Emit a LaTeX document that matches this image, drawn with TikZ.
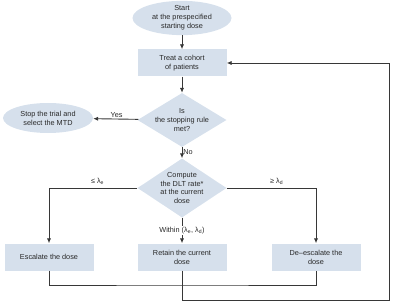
\documentclass[tikz,border=0pt]{standalone}
\usepackage{fontspec}
\setmainfont{Liberation Sans}
\usepackage{xcolor}
\usepackage{tikz}
\usetikzlibrary{arrows.meta,shapes.geometric}
\definecolor{flowline}{RGB}{55,55,55}
\definecolor{flowfill}{RGB}{214,224,236}
\definecolor{flowtext}{RGB}{40,40,40}
\tikzset{
  txt/.style  ={font=\fontsize{7.3}{8.8}\selectfont, text=flowtext, align=center},
  blk/.style  ={txt, fill=flowfill, draw=none, inner sep=0pt, minimum width=89pt, minimum height=27pt},
  ell/.style  ={txt, ellipse, fill=flowfill, draw=none, inner sep=0pt},
  dia/.style  ={diamond, fill=flowfill, draw=none, inner sep=0pt, minimum width=89pt},
  lab/.style  ={txt, inner sep=1pt},
  ln/.style   ={draw=flowline, line width=0.9pt},
  ptr/.style  ={ln, -{Latex[length=5pt,width=4.2pt]}},
}

\begin{document}
\begin{tikzpicture}[x=1pt,y=-1pt]
  \useasboundingbox (0,0) rectangle (395,307);
  % nodes
  \node[ell,minimum width=99pt,minimum height=33pt] (start) at (182,18) {Start\\at the prespecified\\starting dose};
  \node[blk] (treat) at (182,63) {Treat a cohort\\of patients};
  \node[dia,minimum height=54pt,label={[txt]center:{Is\\the stopping rule\\met?}}] (rule) at (182,120) {};
  \node[ell,minimum width=90pt,minimum height=30pt] (stop) at (48,118) {Stop the trial and\\select the MTD};
  \node[dia,minimum height=59pt,label={[txt]center:{Compute\\the DLT rate*\\at the current\\dose}}] (dlt) at (182,188) {};
  \node[blk] (esc) at (49,257) {Escalate the dose};
  \node[blk] (ret) at (182,257) {Retain the current\\dose};
  \node[blk] (desc) at (316,257) {De--escalate the\\dose};
  \coordinate (join) at (182,285);
  \coordinate (back) at (389,300);
  % connectors
  \draw[ptr] (start) -- (treat);
  \draw[ptr] (treat) -- (rule);
  \draw[ptr] (rule) -- node[lab,above,pos=0.48] {Yes} (stop);
  \draw[ptr] (rule) -- node[lab,right,pos=0.45] {No} (dlt);
  \draw[ptr] (dlt.west) -| node[lab,above=2pt,pos=0.225] {≤ λ\textsubscript{e}} (esc.north);
  \draw[ptr] (dlt.east) -| node[lab,above=2pt,pos=0.28] {≥ λ\textsubscript{d}} (desc.north);
  \draw[ptr] (dlt.south) -- node[lab,fill=white,inner sep=1.5pt] {Within (λ\textsubscript{e}, λ\textsubscript{d})} (ret.north);
  \draw[ln] (esc.south) |- (join) -| (desc.south);
  \draw[ptr] (ret.south) |- (back) |- (treat.east);
\end{tikzpicture}
\end{document}
